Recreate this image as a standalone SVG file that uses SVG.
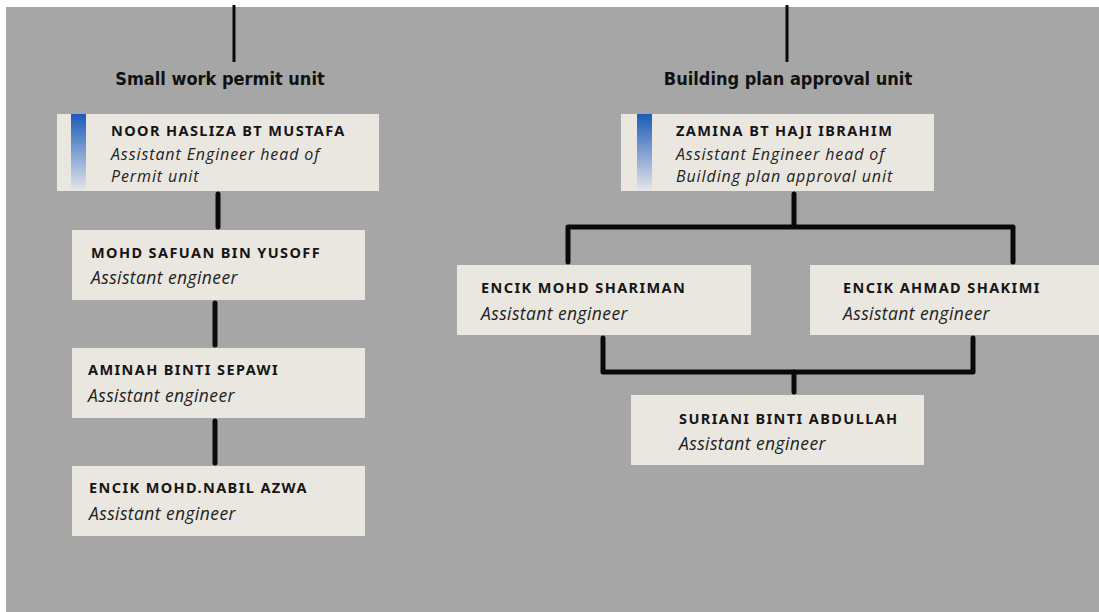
<svg xmlns="http://www.w3.org/2000/svg" width="1099" height="612" viewBox="0 0 1099 612">
<defs>
<linearGradient id="bar" x1="0" y1="0" x2="0" y2="1">
<stop offset="0" stop-color="#1b5bb8"/>
<stop offset="1" stop-color="#e6e6ea"/>
</linearGradient>
<style>
.box{fill:#eae7e1;}
.name{font-family:"Noto Sans","DejaVu Sans",sans-serif;font-weight:bold;font-size:14.5px;letter-spacing:1.4px;fill:#151515;}
.role{font-family:"Open Sans","Noto Sans",sans-serif;font-style:italic;font-size:17.5px;letter-spacing:0.4px;fill:#222;}
.role2{font-family:"Open Sans","Noto Sans",sans-serif;font-style:italic;font-size:16px;letter-spacing:0.9px;fill:#222;}
.title{font-family:"DejaVu Sans Condensed","DejaVu Sans",sans-serif;font-weight:bold;font-size:18px;fill:#111;}
.ln{fill:none;stroke:#0a0a0a;stroke-width:5;stroke-linecap:round;stroke-linejoin:round;}
</style>
</defs>
<rect x="0" y="0" width="1099" height="612" fill="#ffffff"/>
<rect x="6" y="7" width="1093" height="605" fill="#a6a6a6"/>

<g id="connectors">
<line class="ln" x1="234" y1="5" x2="234" y2="62" style="stroke-width:3;stroke-linecap:butt"/>
<line class="ln" x1="787" y1="5" x2="787" y2="62" style="stroke-width:3;stroke-linecap:butt"/>
<line class="ln" x1="218" y1="194" x2="218" y2="227"/>
<line class="ln" x1="215" y1="303" x2="215" y2="345"/>
<line class="ln" x1="215" y1="421" x2="215" y2="463"/>
<line class="ln" x1="794" y1="194" x2="794" y2="225"/>
<polyline class="ln" points="568,262 568,227 1013,227 1013,262"/>
<polyline class="ln" points="603,338 603,372 973,372 973,338"/>
<line class="ln" x1="794" y1="372" x2="794" y2="392"/>
</g>

<g id="title-left"><text class="title" x="220" y="85" text-anchor="middle">Small work permit unit</text></g>
<g id="title-right"><text class="title" x="788" y="85" text-anchor="middle">Building plan approval unit</text></g>

<g id="node-noor">
<rect class="box" x="57" y="114" width="322" height="77"/>
<rect x="71" y="114" width="15" height="77" fill="url(#bar)"/>
<text class="name" x="111" y="136">NOOR HASLIZA BT MUSTAFA</text>
<text class="role2" x="111" y="160">Assistant Engineer head of</text>
<text class="role2" x="111" y="182">Permit unit</text>
</g>

<g id="node-safuan">
<rect class="box" x="72" y="230" width="293" height="70"/>
<text class="name" x="91" y="258">MOHD SAFUAN BIN YUSOFF</text>
<text class="role" x="91" y="284">Assistant engineer</text>
</g>

<g id="node-aminah">
<rect class="box" x="72" y="348" width="293" height="70"/>
<text class="name" x="88" y="375">AMINAH BINTI SEPAWI</text>
<text class="role" x="88" y="402">Assistant engineer</text>
</g>

<g id="node-nabil">
<rect class="box" x="72" y="466" width="293" height="70"/>
<text class="name" x="89" y="493">ENCIK MOHD.NABIL AZWA</text>
<text class="role" x="89" y="520">Assistant engineer</text>
</g>

<g id="node-zamina">
<rect class="box" x="621" y="114" width="313" height="77"/>
<rect x="637" y="114" width="15" height="77" fill="url(#bar)"/>
<text class="name" x="676" y="136">ZAMINA BT HAJI IBRAHIM</text>
<text class="role2" x="676" y="160">Assistant Engineer head of</text>
<text class="role2" x="676" y="182">Building plan approval unit</text>
</g>

<g id="node-shariman">
<rect class="box" x="457" y="265" width="294" height="70"/>
<text class="name" x="481" y="293">ENCIK MOHD SHARIMAN</text>
<text class="role" x="481" y="320">Assistant engineer</text>
</g>

<g id="node-shakimi">
<rect class="box" x="810" y="265" width="289" height="70"/>
<text class="name" x="843" y="293">ENCIK AHMAD SHAKIMI</text>
<text class="role" x="843" y="320">Assistant engineer</text>
</g>

<g id="node-suriani">
<rect class="box" x="631" y="395" width="293" height="70"/>
<text class="name" x="679" y="424">SURIANI BINTI ABDULLAH</text>
<text class="role" x="679" y="450">Assistant engineer</text>
</g>
</svg>
